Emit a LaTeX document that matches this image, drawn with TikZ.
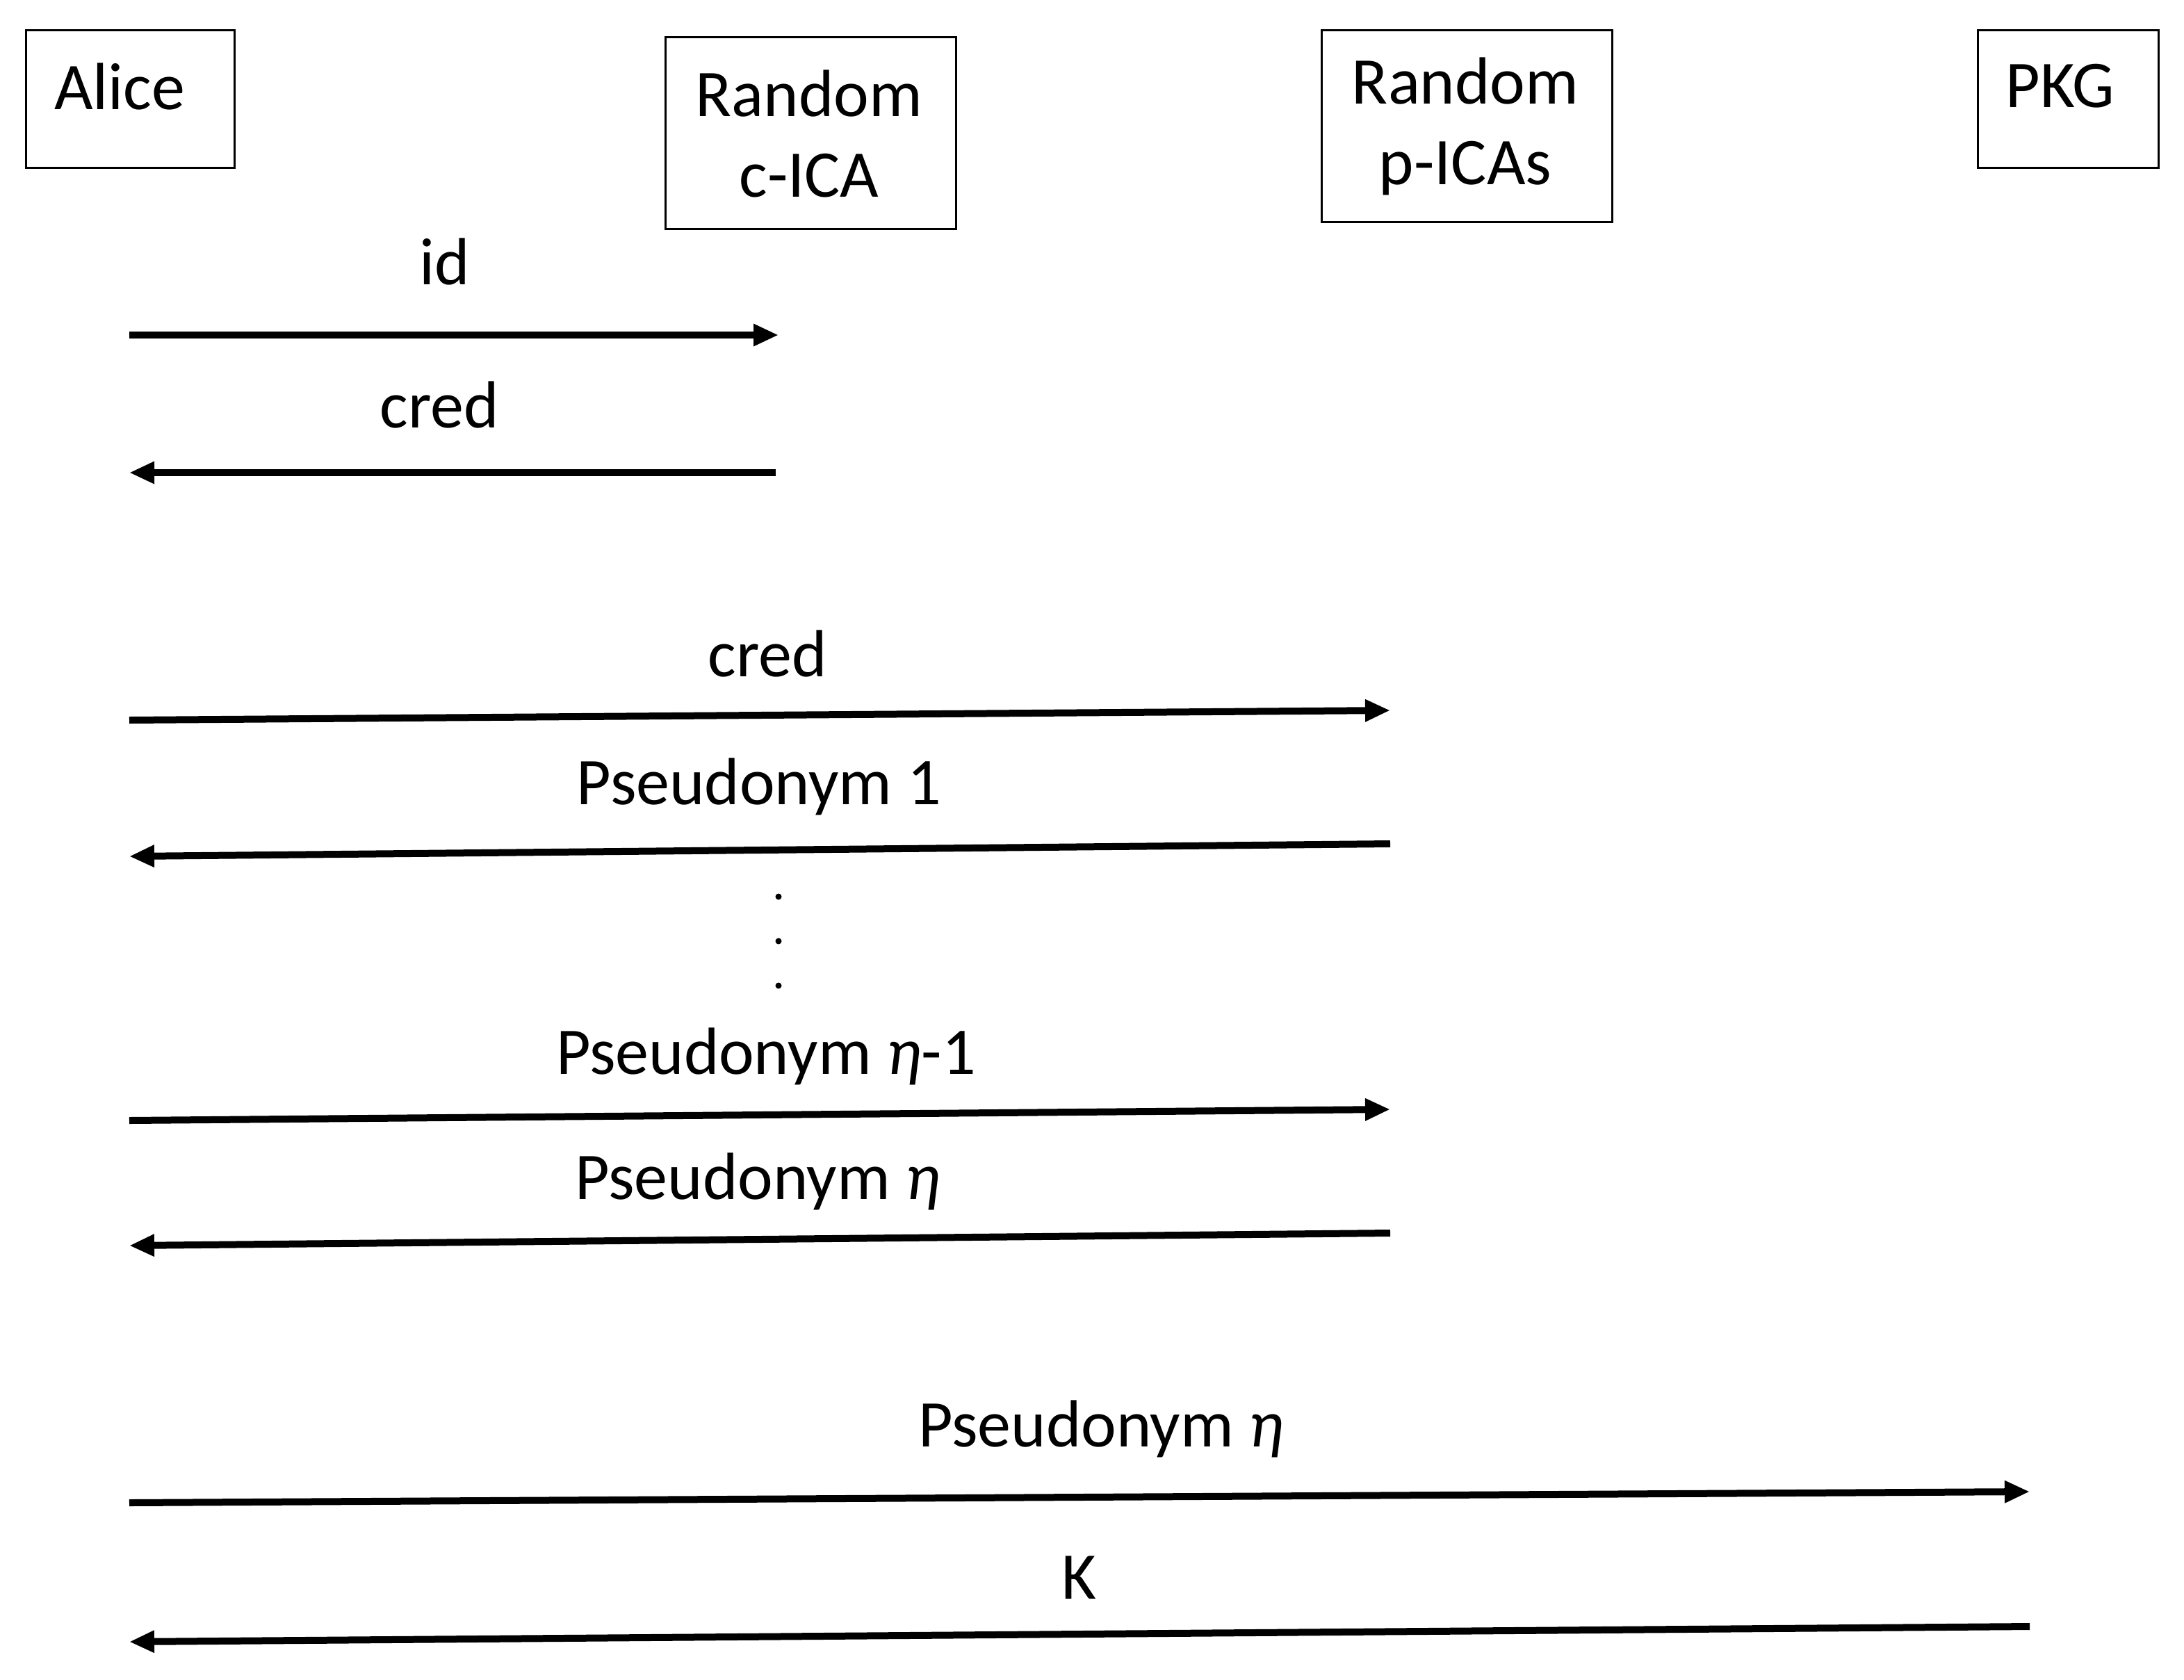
\documentclass[tikz,border=0pt]{standalone}
\usepackage{fontspec}
\setmainfont{Carlito}
\usetikzlibrary{arrows.meta}
\begin{document}
\begin{tikzpicture}[x=1pt,y=-1pt,
  box/.style={draw,line width=1.5pt,inner sep=0pt,align=center},
  lab/.style={font=\fontsize{48}{58}\selectfont},
  dot/.style={circle,fill,inner sep=0pt,minimum size=4.5pt},
  msg/.style={line width=5pt,-{Triangle[length=18pt,width=15pt]}}]
\useasboundingbox (0,0) rectangle (1571,1208);
\node[box,minimum width=150pt,minimum height=99pt,anchor=north west] (alice) at (18,21) {};
\node[lab] (alicel) at (86,62) {Alice};
\node[box,minimum width=209pt,minimum height=138pt,anchor=north west] (cica) at (478,26) {};
\node[lab,align=center] (cical) at (582,96) {Random\\c-ICA};
\node[box,minimum width=209pt,minimum height=138pt,anchor=north west] (pica) at (950,21) {};
\node[lab,align=center] (pical) at (1054,91) {Random\\p-ICAs};
\node[box,minimum width=130pt,minimum height=99pt,anchor=north west] (pkg) at (1422,21) {};
\node[lab] (pkgl) at (1482,62) {PKG};

\coordinate (a1) at (93,241); \coordinate (b1) at (560,241);
\coordinate (a2) at (93,340); \coordinate (b2) at (558,340);
\coordinate (a3) at (93,518); \coordinate (b3) at (1000,511);
\coordinate (a4) at (93,616); \coordinate (b4) at (1000,607);
\coordinate (a5) at (93,806); \coordinate (b5) at (1000,798);
\coordinate (a6) at (93,896); \coordinate (b6) at (1000,887);
\coordinate (a7) at (93,1081); \coordinate (b7) at (1460,1073);
\coordinate (a8) at (93,1181); \coordinate (b8) at (1460,1170);

\draw[msg] (a1) -- (b1); \node[lab] (l1) at (320,188) {id};
\draw[msg] (b2) -- (a2); \node[lab] (l2) at (316,291) {cred};
\draw[msg] (a3) -- (b3); \node[lab] (l3) at (552,470) {cred};
\draw[msg] (b4) -- (a4); \node[lab] (l4) at (546,566) {Pseudonym 1};
\node[dot] (d1) at (560,645) {};
\node[dot] (d2) at (560,677) {};
\node[dot] (d3) at (560,709) {};
\draw[msg] (a5) -- (b5); \node[lab] (l5) at (551,760) {Pseudonym \textit{η}-1};
\draw[msg] (b6) -- (a6); \node[lab] (l6) at (545,850) {Pseudonym \textit{η}};
\draw[msg] (a7) -- (b7); \node[lab] (l7) at (792,1028) {Pseudonym \textit{η}};
\draw[msg] (b8) -- (a8); \node[lab] (l8) at (776,1135) {K};
\end{tikzpicture}
\end{document}
